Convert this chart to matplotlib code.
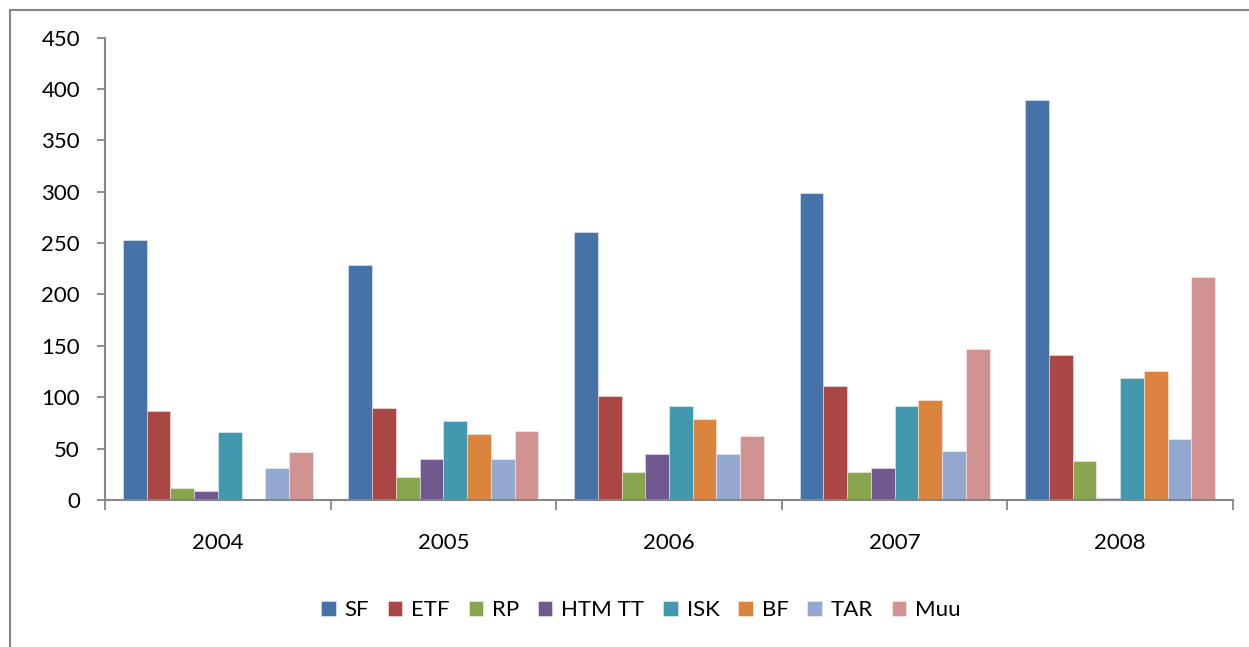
import matplotlib
matplotlib.use("Agg")
import matplotlib.pyplot as plt
import numpy as np
from matplotlib.patches import Rectangle

years = ["2004", "2005", "2006", "2007", "2008"]
series_names = ["SF", "ETF", "RP", "HTM TT", "ISK", "BF", "TAR", "Muu"]
SF = [253, 229, 261, 299, 389]
ETF = [87, 90, 101, 111, 141]
RP = [12, 22, 27, 27, 38]
HTM_TT = [9, 40, 45, 31, 2]
ISK = [66, 77, 91, 91, 119]
BF = [0, 64, 79, 97, 126]
TAR = [31, 40, 45, 48, 59]
Muu = [47, 67, 62, 147, 217]
colors = ["#4572A7", "#AA4643", "#89A54E", "#71588F", "#4198AF", "#DB843D", "#93A9CF", "#D19392"]
yticks = [0, 50, 100, 150, 200, 250, 300, 350, 400, 450]

series = [SF, ETF, RP, HTM_TT, ISK, BF, TAR, Muu]

plt.rcParams['font.family'] = ['Lato', 'DejaVu Sans']
W, H = 1249, 647
fig = plt.figure(figsize=(W / 100, H / 100), dpi=100)
ax = fig.add_axes([105 / W, 1 - 500 / H, (1233 - 105) / W, (500 - 37.5) / H])

x = np.arange(len(years))
n = len(series)
w = 1 / (n + 1.5)
for i, (name, vals, c) in enumerate(zip(series_names, series, colors)):
    ax.bar(x + (i - (n - 1) / 2) * w, vals, width=w, color=c, label=name,
           edgecolor=(1, 1, 1, 0.5), linewidth=0.6, zorder=2)

ax.set_xlim(-0.5, len(years) - 0.5)
ax.set_ylim(0, 450)
ax.set_yticks(yticks)
ax.set_yticklabels([str(t) for t in yticks], fontsize=16)
ax.set_xticks(x)
ax.set_xticklabels(years, fontsize=16)
ax.set_xticks(np.arange(-0.5, len(years)), minor=True)
ax.tick_params(axis='x', which='major', length=0, pad=24)
ax.tick_params(axis='x', which='minor', length=7, width=1.3, color='#868686', direction='out')
ax.tick_params(axis='y', length=6, width=1.3, color='#868686', direction='out', pad=12)

for s in ['top', 'right']:
    ax.spines[s].set_visible(False)
for s in ['left', 'bottom']:
    ax.spines[s].set_color('#868686')
    ax.spines[s].set_linewidth(1.5)

leg = fig.legend(loc='center', bbox_to_anchor=(641 / W, 1 - 610 / H), ncol=8,
                 frameon=False, fontsize=16, handlelength=0.65, handleheight=0.65,
                 handletextpad=0.4, columnspacing=0.85)

fig.patches.append(Rectangle((10 / W, -0.1), 1.2, 1 - 10 / H + 0.1, transform=fig.transFigure,
                             fill=False, edgecolor='#868686', linewidth=1.5))

fig.savefig("out.png", dpi=100)
